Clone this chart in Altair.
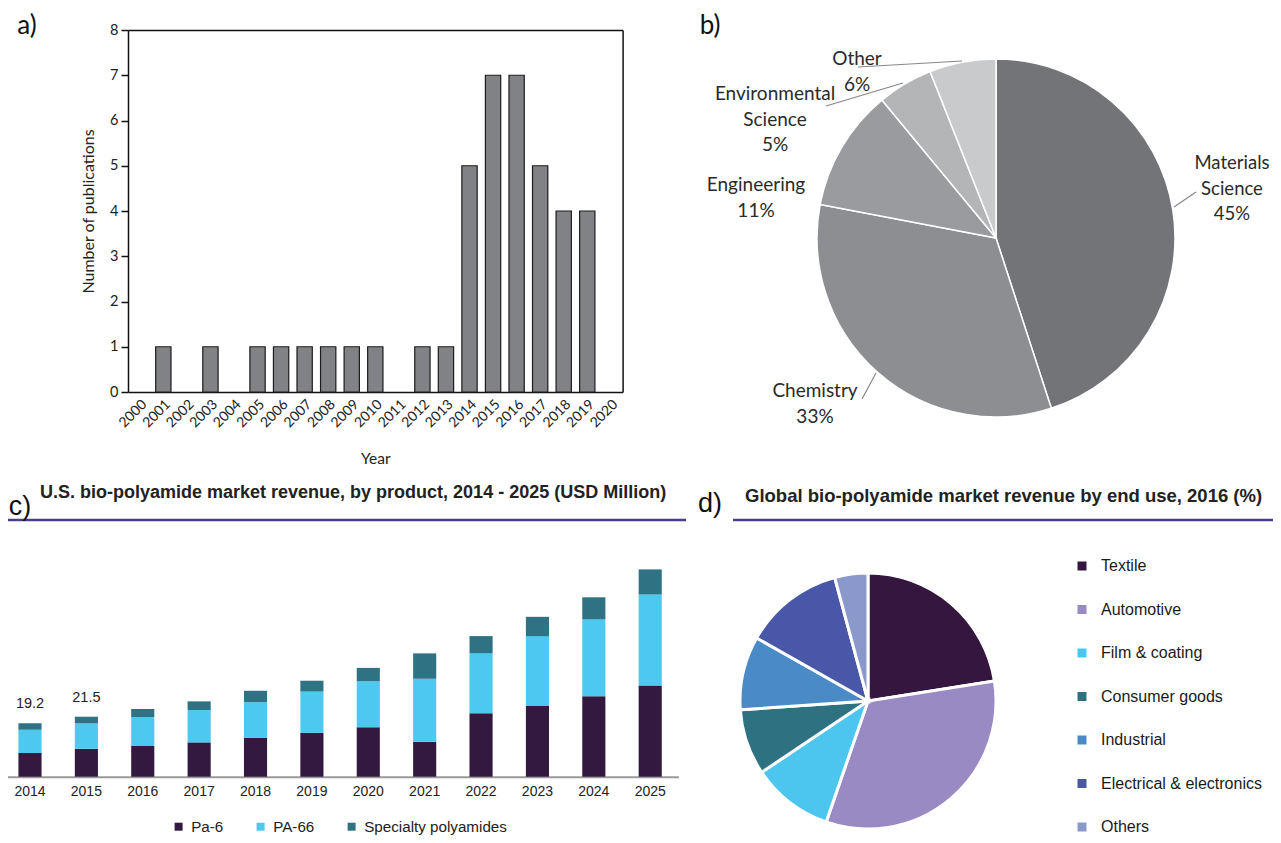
import altair as alt
import pandas as pd

# ------------------------------------------------------------------ data
a_years = ["2000", "2001", "2002", "2003", "2004", "2005", "2006", "2007", "2008", "2009", "2010",
           "2011", "2012", "2013", "2014", "2015", "2016", "2017", "2018", "2019", "2020"]
a_counts = [0, 1, 0, 1, 0, 1, 1, 1, 1, 1, 1, 0, 1, 1, 5, 7, 7, 5, 4, 4, 0]

b_fields = ["Materials Science", "Chemistry", "Engineering", "Environmental Science", "Other"]
b_share = [45, 33, 11, 5, 6]

c_years = ["2014", "2015", "2016", "2017", "2018", "2019", "2020", "2021", "2022", "2023", "2024", "2025"]
c_series = ["Pa-6", "PA-66", "Specialty polyamides"]
c_pa6 = [8.5, 10.0, 11.0, 12.3, 13.9, 15.7, 17.7, 12.5, 22.7, 25.3, 28.8, 32.7]
c_pa66 = [8.3, 9.1, 10.4, 11.6, 12.8, 14.8, 16.5, 22.6, 21.6, 25.1, 27.6, 32.6]
c_special = [2.4, 2.4, 2.9, 3.1, 4.1, 3.9, 4.8, 9.1, 6.1, 6.9, 7.9, 9.0]
c_label_years = ["2014", "2015"]
c_label_text = ["19.2", "21.5"]

d_uses = ["Textile", "Automotive", "Film & coating", "Consumer goods", "Industrial",
          "Electrical & electronics", "Others"]
d_share = [22.5, 32.8, 10.3, 8.3, 9.3, 12.6, 4.2]

# ------------------------------------------------------------------ style
b_colors = ["#727477", "#8c8e91", "#999b9e", "#b3b5b7", "#c8cacc"]
c_colors = ["#33183f", "#4dc8ef", "#2f7284"]
d_colors = ["#34163f", "#998ac4", "#4dc6ef", "#2e7282", "#4a8bc7", "#4957a8", "#8b98cc"]
CAL = "Lato"
ARIAL = "Liberation Sans"
RULE = "#4a3f8c"

W, H = 1265, 827
M = 8


def X(p):
    return p - M


def Y(p):
    return p - M


dummy = pd.DataFrame({"k": [0]})


def note(text, x, y, **kw):
    return alt.Chart(dummy).mark_text(text=text, **kw).encode(x=alt.value(X(x)), y=alt.value(Y(y)))


def line(x1, y1, x2, y2, color, width):
    return alt.Chart(dummy).mark_rule(color=color, strokeWidth=width).encode(
        x=alt.value(X(x1)), y=alt.value(Y(y1)), x2=alt.value(X(x2)), y2=alt.value(Y(y2)))


layers = []

# ------------------------------------------------------------------ panel a
a_df = pd.DataFrame({"year": a_years, "count": a_counts})


def a_xs():
    return alt.Scale(type="band", domain=a_years, range=[X(128), X(622.6)], paddingInner=0.35, paddingOuter=0.175)


def a_ys():
    return alt.Scale(type="linear", domain=[0, 8], range=[Y(392), Y(30)], nice=False, zero=False)


a_bars = alt.Chart(a_df).transform_filter("datum.count > 0").mark_bar(
    color="#808285", stroke="#1c1c1c", strokeWidth=1.2).encode(
    x=alt.X("year:O", scale=a_xs(), axis=alt.Axis(
        orient="bottom", offset=Y(392) - H, labelAngle=-45, labelFont=CAL, labelFontSize=14,
        labelColor="#222", labelPadding=5, ticks=False, domainColor="#111", domainWidth=1.5,
        labelOverlap=False, title="Year", titleFont=CAL, titleFontSize=15.5, titleFontWeight="normal",
        titleColor="#222", titleY=66, titleBaseline="middle")),
    y=alt.Y("count:Q", scale=a_ys(), axis=alt.Axis(
        orient="left", offset=-X(128), values=list(range(9)), tickSize=7, tickColor="#111", tickWidth=1.5,
        domainColor="#111", domainWidth=1.5, labelFont=CAL, labelFontSize=14.5, labelColor="#222",
        labelPadding=3, grid=False, title="Number of publications", titleFont=CAL, titleFontSize=16,
        titleFontWeight="normal", titleColor="#222", titleX=-40, titleBaseline="middle")),
)
a_frame = alt.Chart(a_df).mark_bar(opacity=0).encode(
    x=alt.X("year:O", scale=a_xs(), axis=alt.Axis(
        orient="top", offset=-Y(30), labels=False, ticks=False, title=None, domainColor="#111", domainWidth=1.5)),
    y=alt.Y("count:Q", scale=a_ys(), axis=alt.Axis(
        orient="right", offset=X(622.6) - W, labels=False, ticks=False, grid=False, title=None,
        domainColor="#111", domainWidth=1.5)),
)
layers += [a_bars, a_frame, note("a)", 27, 26, font=CAL, fontSize=26, color="#111", baseline="middle")]

# ------------------------------------------------------------------ panel b
b_df = pd.DataFrame({"field": b_fields, "share": b_share, "idx": list(range(len(b_fields)))})
b_pie = alt.Chart(b_df).mark_arc(radius=179, stroke="white", strokeWidth=1.5).encode(
    theta=alt.Theta("share:Q", stack=True),
    color=alt.Color("field:N", scale=alt.Scale(domain=b_fields, range=b_colors), legend=None),
    order=alt.Order("idx:Q", sort="ascending"),
    x=alt.value(X(996)), y=alt.value(Y(238)),
)
lab = dict(font=CAL, fontSize=19, color="#2a2a2a", baseline="middle", align="center", lineHeight=25.5)
layers += [
    b_pie,
    line(1174, 207, 1196, 192, "#888888", 1.2),
    line(862, 399, 876, 373, "#888888", 1.2),
    line(826, 106, 903, 83, "#888888", 1.2),
    line(858, 67, 962, 61, "#888888", 1.2),
    note(["Materials", "Science", "45%"], 1232, 163, **dict(lab, fontSize=18.5)),
    note(["Chemistry", "33%"], 815, 391, **lab),
    note(["Engineering", "11%"], 756, 185, **lab),
    note(["Environmental", "Science", "5%"], 775, 94, **lab),
    note(["Other", "6%"], 857, 59, **lab),
    note("b)", 710, 26, font=CAL, fontSize=26, color="#111", baseline="middle"),
]

# ------------------------------------------------------------------ panel c
rows = []
for i, yr in enumerate(c_years):
    for k, arr in enumerate([c_pa6, c_pa66, c_special]):
        rows.append({"year": yr, "series": c_series[k], "value": arr[i], "idx": k})
c_df = pd.DataFrame(rows)
PXU = 2.79


def c_xs():
    return alt.Scale(type="band", domain=c_years, range=[X(1.8), X(678.4)], paddingInner=0.59, paddingOuter=0.295)


def c_ys():
    return alt.Scale(type="linear", domain=[0, 80], range=[Y(776.7), Y(776.7 - 80 * PXU)], nice=False, zero=False)


c_bars = alt.Chart(c_df).mark_bar().encode(
    x=alt.X("year:O", scale=c_xs(), axis=alt.Axis(
        orient="bottom", offset=Y(776.7) - H, ticks=False, labelAngle=0, labelFont=ARIAL, labelFontSize=14,
        labelColor="#222", labelPadding=8, domainColor="#9a9a9a", domainWidth=2, title=None)),
    y=alt.Y("value:Q", stack="zero", scale=c_ys(), axis=None),
    color=alt.Color("series:N", scale=alt.Scale(domain=c_series, range=c_colors), legend=alt.Legend(
        orient="none", legendX=X(171), legendY=Y(819), direction="horizontal", title=None,
        symbolType="square", symbolSize=64, symbolStrokeWidth=0, labelFont=ARIAL, labelFontSize=15.2,
        labelColor="#222", labelOffset=5, columnPadding=29, padding=0, labelLimit=300)),
    order=alt.Order("idx:Q", sort="ascending"),
)
totals = [c_pa6[i] + c_pa66[i] + c_special[i] for i in range(len(c_years))]
c_lab_df = pd.DataFrame({"year": c_label_years, "label": c_label_text,
                         "total": [totals[c_years.index(y)] for y in c_label_years]})
c_labels = alt.Chart(c_lab_df).mark_text(font=ARIAL, fontSize=14.5, color="#222", dy=-19, baseline="middle").encode(
    x=alt.X("year:O", scale=c_xs(), axis=None),
    y=alt.Y("total:Q", scale=c_ys(), axis=None),
    text="label:N",
)
layers += [
    c_bars, c_labels,
    line(0, 520, 686, 520, RULE, 2.5),
    note("c)", 20, 507, font=ARIAL, fontSize=27, color="#111", baseline="middle"),
    note("U.S. bio-polyamide market revenue, by product, 2014 - 2025 (USD Million)", 40, 493,
         font=ARIAL, fontSize=18, fontWeight="bold", color="#222", align="left", baseline="middle"),
]

# ------------------------------------------------------------------ panel d
d_df = pd.DataFrame({"use": d_uses, "share": d_share, "idx": list(range(len(d_uses)))})
d_pie = alt.Chart(d_df).mark_arc(radius=128, stroke="white", strokeWidth=3).encode(
    theta=alt.Theta("share:Q", stack=True),
    color=alt.Color("use:N", scale=alt.Scale(domain=d_uses, range=d_colors), legend=alt.Legend(
        orient="none", legendX=X(1074), legendY=Y(558), direction="vertical", title=None,
        symbolType="square", symbolSize=81, symbolStrokeWidth=0, labelFont=ARIAL, labelFontSize=16,
        labelColor="#1a1a1a", labelOffset=11, rowPadding=27.5, padding=0, labelLimit=300)),
    order=alt.Order("idx:Q", sort="ascending"),
    x=alt.value(X(868)), y=alt.value(Y(701)),
)
layers += [
    d_pie,
    line(733, 520, 1281, 520, RULE, 2.5),
    note("d)", 710, 504, font=ARIAL, fontSize=27, color="#111", baseline="middle"),
    note("Global bio-polyamide market revenue by end use, 2016 (%)", 745, 496,
         font=ARIAL, fontSize=18.5, fontWeight="bold", color="#222", align="left", baseline="middle"),
]

chart = alt.layer(*layers).resolve_scale(
    x="independent", y="independent", color="independent", theta="independent"
).properties(
    width=W, height=H, padding=0, autosize=alt.AutoSizeParams(type="none"), background="white"
).configure_view(strokeOpacity=0)

chart.save("out.html", embed_options={"renderer": "svg", "actions": False})
